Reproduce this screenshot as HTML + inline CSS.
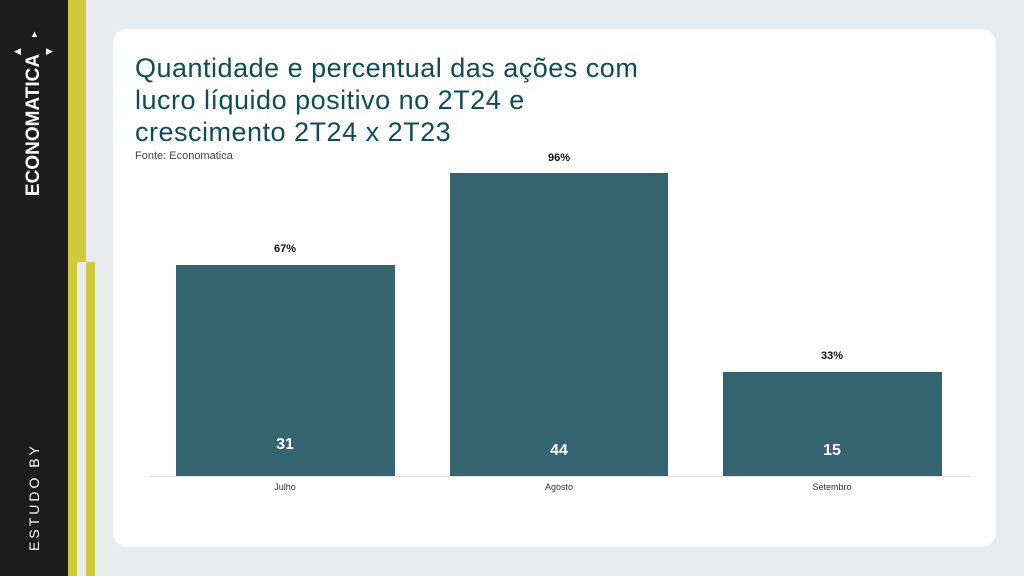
<!DOCTYPE html>
<html><head><meta charset="utf-8"><style>
*{margin:0;padding:0;box-sizing:border-box}
body{width:1024px;height:576px;background:#e8ecee;position:relative;overflow:hidden;font-family:"Liberation Sans",sans-serif}
.a{position:absolute}
.bar{position:absolute;background:#35636f}
.pct{position:absolute;font-size:11px;font-weight:bold;color:#111;width:60px;text-align:center}
.num{position:absolute;font-size:16px;font-weight:bold;color:#fff;width:60px;text-align:center}
.lab{position:absolute;font-size:9px;color:#333;width:80px;text-align:center}
</style></head><body>
<div class="a" style="left:0;top:0;width:68px;height:576px;background:#1c1c1c"></div>
<div class="a" style="left:68px;top:0;width:18px;height:262px;background:#cfca3a"></div>
<div class="a" style="left:68px;top:262px;width:9px;height:314px;background:#cfca3a"></div>
<div class="a" style="left:86px;top:262px;width:9px;height:314px;background:#cfca3a"></div>
<div class="a" style="left:77px;top:262px;width:9px;height:314px;background:#e8ecee"></div>
<div class="a" style="left:34px;top:125px;transform:translate(-50%,-50%) rotate(-90deg);color:#fff;font-weight:bold;font-size:19px;white-space:nowrap">ECONOMATICA</div>
<div class="a" style="left:30px;top:30px;color:#fff;font-size:9px;line-height:9px">▲</div>
<div class="a" style="left:14px;top:46px;color:#fff;font-size:9px">◀</div>
<div class="a" style="left:46px;top:46px;color:#fff;font-size:9px">▶</div>
<div class="a" style="left:34px;top:497px;transform:translate(-50%,-50%) rotate(-90deg);color:#fff;font-size:14px;letter-spacing:3px;white-space:nowrap">ESTUDO BY</div>
<div class="a" style="left:113px;top:29px;width:883px;height:518px;background:#fff;border-radius:14px"></div>
<div class="a" style="left:135px;top:52px;font-size:27px;letter-spacing:0.5px;line-height:32px;color:#0f4d54;white-space:nowrap">Quantidade e percentual das ações com<br>lucro líquido positivo no 2T24 e<br>crescimento 2T24 x 2T23</div>
<div class="a" style="left:135px;top:150px;font-size:11px;color:#444">Fonte: Economatica</div>
<div class="a" style="left:150px;top:476px;width:820px;height:1px;background:#e4e4e4"></div>
<div class="bar" style="left:176px;top:265px;width:219px;height:211px"></div>
<div class="bar" style="left:450px;top:173px;width:218px;height:303px"></div>
<div class="bar" style="left:723px;top:372px;width:219px;height:104px"></div>
<div class="pct" style="left:255px;top:243px">67%</div>
<div class="pct" style="left:529px;top:152px">96%</div>
<div class="pct" style="left:802px;top:350px">33%</div>
<div class="num" style="left:255px;top:436px">31</div>
<div class="num" style="left:529px;top:442px">44</div>
<div class="num" style="left:802px;top:442px">15</div>
<div class="lab" style="left:245px;top:482px">Julho</div>
<div class="lab" style="left:519px;top:482px">Agosto</div>
<div class="lab" style="left:792px;top:482px">Setembro</div>
</body></html>
